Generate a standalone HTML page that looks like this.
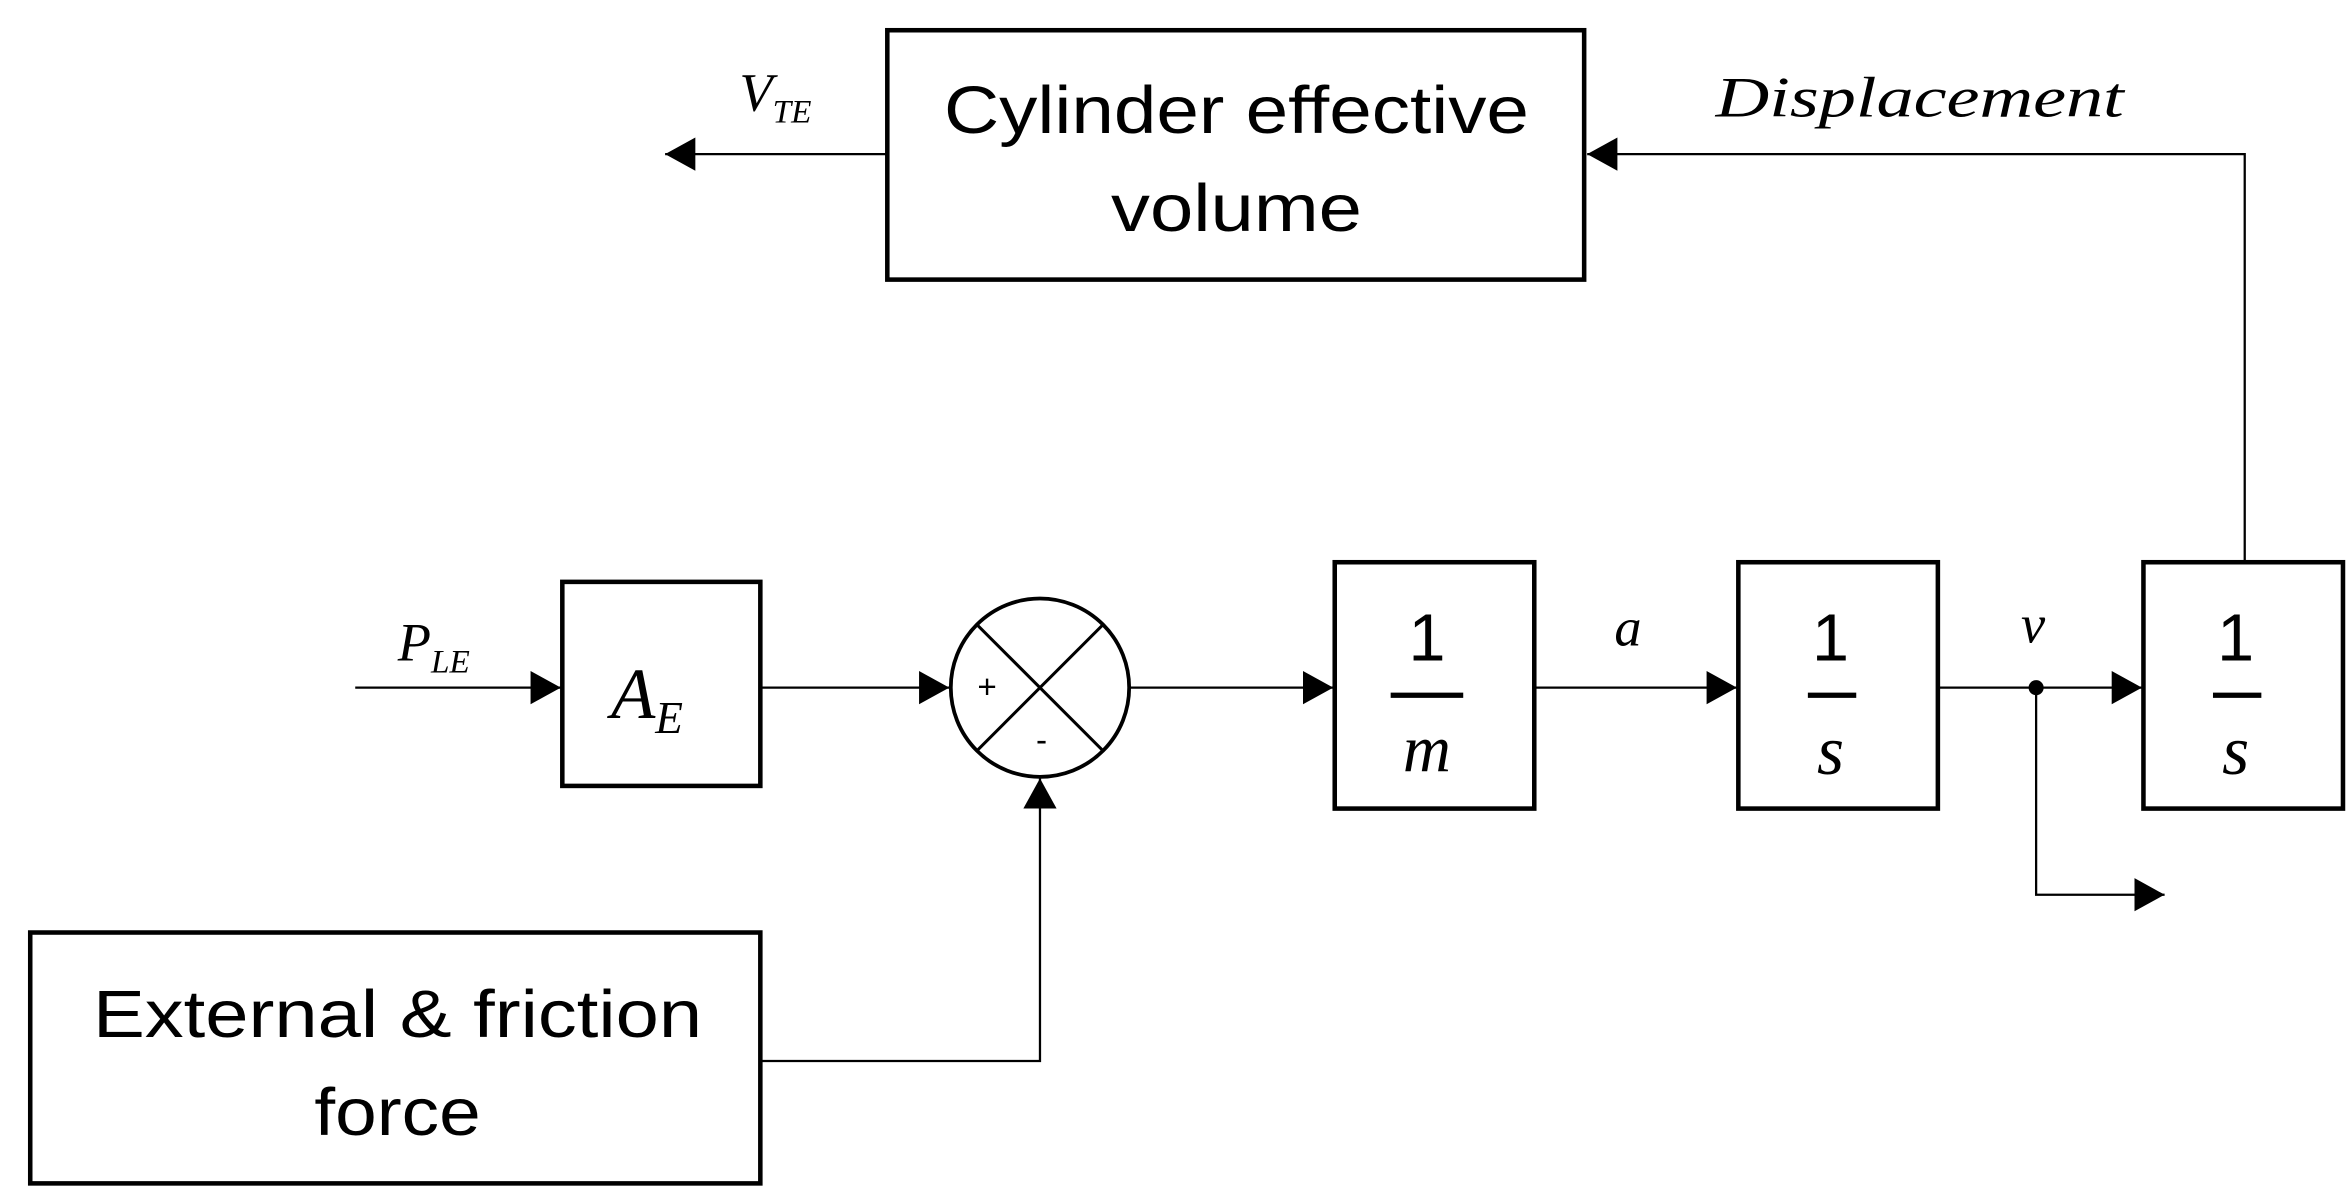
<!DOCTYPE html>
<html><head><style>html,body{margin:0;padding:0;background:#fff;}svg{display:block}</style></head>
<body>
<svg width="2346" height="1197" viewBox="0 0 1552 792" preserveAspectRatio="none" xmlns="http://www.w3.org/2000/svg">
<defs>
<marker id="ar" markerWidth="20" markerHeight="22" refX="20" refY="11" orient="auto" markerUnits="userSpaceOnUse" viewBox="0 0 20 22">
<path d="M0,0 L20,11 L0,22 z" fill="#000"/>
</marker>
</defs>
<g fill="none" stroke="#000">
<rect x="587" y="20" width="461" height="165" stroke-width="3"/>
<rect x="372" y="385" width="131" height="135" stroke-width="3"/>
<rect x="883" y="372" width="132" height="163" stroke-width="3"/>
<rect x="1150" y="372" width="132" height="163" stroke-width="3"/>
<rect x="1418" y="372" width="132" height="163" stroke-width="3"/>
<rect x="20" y="617" width="483" height="166" stroke-width="3"/>
<circle cx="688" cy="455" r="59" stroke-width="2.5"/>
<line x1="646" y1="413" x2="730" y2="497" stroke-width="2"/>
<line x1="730" y1="413" x2="646" y2="497" stroke-width="2"/>
<g stroke-width="1.5">
<line x1="587" y1="102" x2="440" y2="102" marker-end="url(#ar)"/>
<polyline points="1485,372 1485,102 1050,102" marker-end="url(#ar)"/>
<line x1="235" y1="455" x2="371" y2="455" marker-end="url(#ar)"/>
<line x1="503" y1="455" x2="628" y2="455" marker-end="url(#ar)"/>
<line x1="748" y1="455" x2="882" y2="455" marker-end="url(#ar)"/>
<line x1="1015" y1="455" x2="1149" y2="455" marker-end="url(#ar)"/>
<line x1="1282" y1="455" x2="1417" y2="455" marker-end="url(#ar)"/>
<polyline points="1347,455 1347,592 1432,592" marker-end="url(#ar)"/>
<polyline points="503,702 688,702 688,515" marker-end="url(#ar)"/>
</g>
<g stroke-width="3.5">
<line x1="920" y1="460" x2="968" y2="460"/>
<line x1="1196" y1="460" x2="1228" y2="460"/>
<line x1="1464" y1="460" x2="1496" y2="460"/>
</g>
</g>
<circle cx="1347" cy="455" r="5" fill="#000"/>
<g font-family="Liberation Sans, sans-serif" font-size="44" text-anchor="middle" fill="#000">
<text x="818" y="88" textLength="387" lengthAdjust="spacingAndGlyphs">Cylinder effective</text>
<text x="818" y="153" textLength="166" lengthAdjust="spacingAndGlyphs">volume</text>
<text x="263" y="686" textLength="403" lengthAdjust="spacingAndGlyphs">External &amp; friction</text>
<text x="263" y="751" textLength="110" lengthAdjust="spacingAndGlyphs">force</text>
<text x="653" y="462" font-size="22">+</text>
<text x="689" y="497" font-size="22">-</text>
<text x="944" y="437" font-size="44">1</text>
<text x="1211" y="437" font-size="44">1</text>
<text x="1479" y="437" font-size="44">1</text>
</g>
<g font-family="Liberation Serif, serif" font-style="italic" fill="#000" text-anchor="middle">
<text x="944" y="510" font-size="44">m</text>
<text x="1211" y="512" font-size="46">s</text>
<text x="1479" y="512" font-size="46">s</text>
<text x="1270" y="77" font-size="38" textLength="270" lengthAdjust="spacingAndGlyphs">Displacement</text>
<text x="1077" y="427" font-size="36">a</text>
<text x="1345" y="425" font-size="36">v</text>
<text x="428" y="475" font-size="48">A<tspan font-size="30" dy="10">E</tspan></text>
<text x="287" y="437" font-size="36">P<tspan font-size="22" dy="8">LE</tspan></text>
<text x="513" y="73" font-size="36">V<tspan font-size="22" dy="8">TE</tspan></text>
</g>
</svg>
</body></html>
